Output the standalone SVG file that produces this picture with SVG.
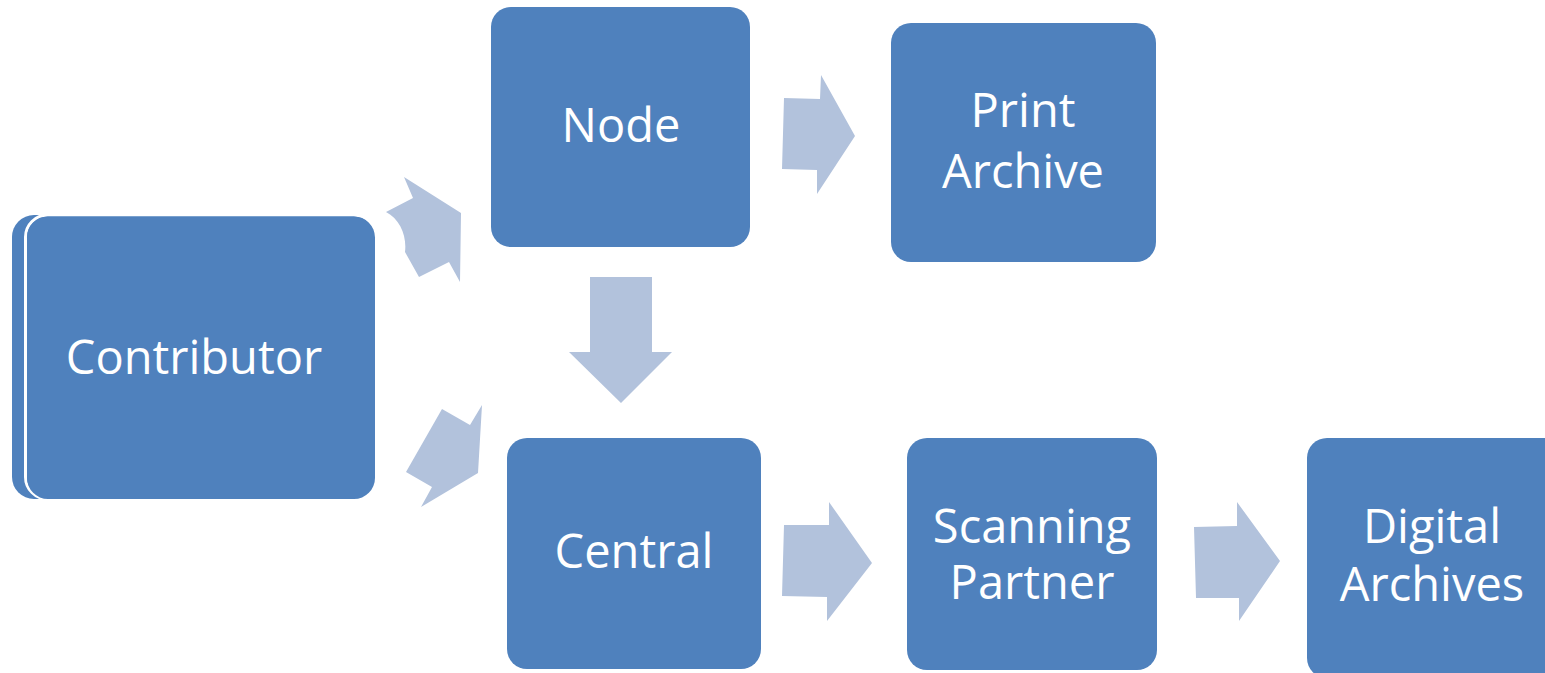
<svg xmlns="http://www.w3.org/2000/svg" width="1545" height="673" viewBox="0 0 1545 673">
<style>
.box{fill:#4F81BD}
.arr{fill:#B2C2DC}
.t{fill:#fff;font-family:"Open Sans","Liberation Sans",sans-serif;font-size:47px;text-anchor:middle}
</style>
<rect width="1545" height="673" fill="#fff"/>
<g id="connectors">
<path class="arr" d="M386,212 L413,198 L404,177 L461,213 L460,282 L449,262 L419,277 L405,252 C407,236 400,219 386,212 Z"/>
<polygon class="arr" points="442,409 470,425 482,405 478,473 421,507 432,487 406,472"/>
<polygon class="arr" points="784,98 820,99 821,75 855,136 817,194 817,170 782,169"/>
<polygon class="arr" points="590,277 652,277 652,352 672,352 621,403 569,352 590,352"/>
<polygon class="arr" points="784,525 829,525 829,502 872,563 827,621 827,597 782,596"/>
<polygon class="arr" points="1194,527 1237,526 1237,502 1280,561 1239,621 1239,598 1196,598"/>
</g>
<g id="contributor">
<rect class="box" x="12" y="215" width="340" height="284" rx="22"/>
<rect class="box" x="25.5" y="215" width="350" height="284" rx="22" stroke="#fff" stroke-width="3"/>
<rect class="box" x="27" y="216.5" width="348" height="282.5" rx="21"/>
<text class="t" x="194" y="374">Contributor</text>
</g>
<g id="node">
<rect class="box" x="491" y="7" width="259" height="240" rx="20"/>
<text class="t" x="621" y="142">Node</text>
</g>
<g id="print-archive">
<rect class="box" x="891" y="23" width="265" height="239" rx="20"/>
<text class="t" x="1023" y="127">Print</text>
<text class="t" x="1023" y="188">Archive</text>
</g>
<g id="central">
<rect class="box" x="507" y="438" width="254" height="231" rx="20"/>
<text class="t" x="634" y="568">Central</text>
</g>
<g id="scanning-partner">
<rect class="box" x="907" y="438" width="250" height="232" rx="20"/>
<text class="t" x="1032" y="543">Scanning</text>
<text class="t" x="1032" y="599">Partner</text>
</g>
<g id="digital-archives">
<rect class="box" x="1307" y="438" width="260" height="240" rx="20"/>
<text class="t" x="1432" y="543">Digital</text>
<text class="t" x="1432" y="601">Archives</text>
</g>
</svg>
